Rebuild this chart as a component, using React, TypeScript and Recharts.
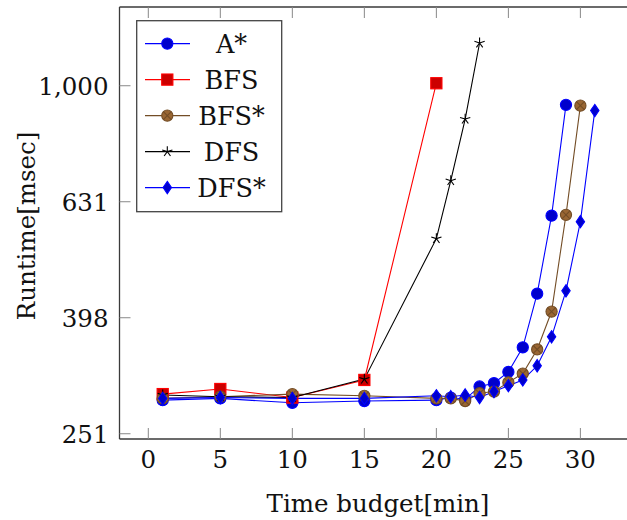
import { LineChart, Line, XAxis, YAxis, ReferenceLine, Legend } from 'recharts';

const xTicks = [0, 5, 10, 15, 20, 25, 30];
const yTicks = [251.19, 398.11, 630.96, 1000];
const yTickLabels = ['251', '398', '631', '1,000'];

const aStarX = [1, 5, 10, 15, 20, 21, 22, 23, 24, 25, 26, 27, 28, 29];
const aStarY = [287, 289, 284, 286, 287, 290, 288, 303, 307, 321, 354, 438, 597, 927];

const bfsX = [1, 5, 10, 15, 20];
const bfsY = [294, 300, 290, 311, 1010];

const bfsStarX = [1, 5, 10, 15, 20, 21, 22, 23, 24, 25, 26, 27, 28, 29, 30];
const bfsStarY = [289, 291, 294, 292, 289, 289, 286, 295, 297, 308, 319, 351, 408, 599, 924];

const dfsX = [1, 5, 10, 15, 20, 21, 22, 23];
const dfsY = [293, 291, 290, 312, 545, 686, 876, 1185];

const dfsStarX = [1, 5, 10, 15, 20, 21, 22, 23, 24, 25, 26, 27, 28, 29, 30, 31];
const dfsStarY = [289, 290, 289, 289, 292, 291, 293, 290, 297, 304, 311, 329, 369, 443, 583, 906];

const FONT = 'DejaVu Serif';
const PLOT_H = 432;
const Y_MIN = 246;
const Y_MAX = 1367;

const zip = (xs: number[], ys: number[]) => xs.map((x, i) => ({ x, y: ys[i] }));

type MarkKind = 'circle' | 'square' | 'otimes' | 'star' | 'diamond';

const series = [
  { name: 'A*', data: zip(aStarX, aStarY), stroke: '#0000ff', fill: '#0000cc', mark: 'circle' as MarkKind },
  { name: 'BFS', data: zip(bfsX, bfsY), stroke: '#ff0000', fill: '#cc0000', mark: 'square' as MarkKind },
  { name: 'BFS*', data: zip(bfsStarX, bfsStarY), stroke: '#734d26', fill: '#996633', mark: 'otimes' as MarkKind },
  { name: 'DFS', data: zip(dfsX, dfsY), stroke: '#000000', fill: '#000000', mark: 'star' as MarkKind },
  { name: 'DFS*', data: zip(dfsStarX, dfsStarY), stroke: '#0000ff', fill: '#0000cc', mark: 'diamond' as MarkKind },
];

function Mark({ kind, cx, cy, stroke, fill }: { kind: MarkKind; cx: number; cy: number; stroke: string; fill: string }) {
  const r = 5.6;
  if (kind === 'circle') return <circle cx={cx} cy={cy} r={r} fill={fill} stroke={stroke} strokeWidth={1.1} />;
  if (kind === 'square')
    return <rect x={cx - r} y={cy - r} width={2 * r} height={2 * r} fill={fill} stroke={stroke} strokeWidth={1.1} />;
  if (kind === 'otimes') {
    const d = r * 0.707;
    return (
      <g stroke={stroke} strokeWidth={1.1}>
        <circle cx={cx} cy={cy} r={r} fill={fill} />
        <line x1={cx - d} y1={cy - d} x2={cx + d} y2={cy + d} />
        <line x1={cx - d} y1={cy + d} x2={cx + d} y2={cy - d} />
      </g>
    );
  }
  if (kind === 'star') {
    return (
      <g stroke={stroke} strokeWidth={1.1}>
        {[0, 1, 2, 3, 4].map(k => {
          const a = (-90 + 72 * k) * Math.PI / 180;
          return <line key={k} x1={cx} y1={cy} x2={cx + 5.4 * Math.cos(a)} y2={cy + 5.4 * Math.sin(a)} />;
        })}
      </g>
    );
  }
  return (
    <polygon
      points={`${cx},${cy - 6.2} ${cx + 4.2},${cy} ${cx},${cy + 6.2} ${cx - 4.2},${cy}`}
      fill={fill}
      stroke={stroke}
      strokeWidth={1.1}
    />
  );
}

const XTick = (props: any) => {
  const { x, y, payload } = props;
  return (
    <g>
      <line x1={x} x2={x} y1={y} y2={y - 11} stroke="#888" strokeWidth={1} />
      <line x1={x} x2={x} y1={y - PLOT_H} y2={y - PLOT_H + 11} stroke="#888" strokeWidth={1} />
      <text x={x} y={y + 29} textAnchor="middle" style={{ fontFamily: FONT, fontSize: 24.5 }} fill="#111">
        {payload.value}
      </text>
    </g>
  );
};

const YTick = (props: any) => {
  const { x, y, index } = props;
  return (
    <g>
      <line x1={x} x2={x + 11} y1={y} y2={y} stroke="#888" strokeWidth={1} />
      <text x={x - 11} y={y + 9} textAnchor="end" style={{ fontFamily: FONT, fontSize: 24.5 }} fill="#111">
        {yTickLabels[index]}
      </text>
    </g>
  );
};

function LegendBox() {
  return (
    <svg width={147} height={193} style={{ display: 'block' }}>
      <rect x={0.7} y={0.7} width={145} height={191} fill="#fff" stroke="#444" strokeWidth={1.3} />
      {series.map((s, i) => {
        const cy = 23.6 + i * 36;
        return (
          <g key={s.name}>
            <line x1={9} x2={54} y1={cy} y2={cy} stroke={s.stroke} strokeWidth={1.1} />
            <Mark kind={s.mark} cx={31.3} cy={cy} stroke={s.stroke} fill={s.fill} />
            <text x={95.5} y={cy + 9.3} textAnchor="middle" style={{ fontFamily: FONT, fontSize: 25.5 }} fill="#111">
              {s.name}
            </text>
          </g>
        );
      })}
    </svg>
  );
}

export default function App() {
  return (
    <div style={{ position: 'absolute', left: 0, top: 0, width: 627, height: 520, overflow: 'hidden', background: '#fff' }}>
      <LineChart width={640} height={520} margin={{ top: 7, right: 2, bottom: 0, left: 0 }}>
        <XAxis
          dataKey="x"
          type="number"
          domain={[-2, 34]}
          ticks={xTicks}
          allowDataOverflow
          height={81}
          tickSize={0}
          tickMargin={0}
          tickLine={false}
          tick={<XTick />}
          axisLine={{ stroke: '#3a3a3a', strokeWidth: 1.3 }}
          label={{
            content: () => (
              <text x={378} y={511.5} textAnchor="middle" style={{ fontFamily: FONT, fontSize: 24.5 }} fill="#111">
                Time budget[min]
              </text>
            ),
          }}
        />
        <YAxis
          type="number"
          scale="log"
          domain={[Y_MIN, Y_MAX]}
          ticks={yTicks}
          allowDataOverflow
          width={119.5}
          tickSize={0}
          tickMargin={0}
          tickLine={false}
          tick={<YTick />}
          axisLine={{ stroke: '#3a3a3a', strokeWidth: 1.3 }}
          label={{
            content: () => (
              <text
                x={35}
                y={226}
                transform="rotate(-90 35 226)"
                textAnchor="middle"
                style={{ fontFamily: FONT, fontSize: 24.5 }}
                fill="#111"
              >
                Runtime[msec]
              </text>
            ),
          }}
        />
        <ReferenceLine y={Y_MAX} stroke="#3a3a3a" strokeWidth={1.3} ifOverflow="visible" />
        {series.map(s => (
          <Line
            key={s.name}
            data={s.data}
            dataKey="y"
            name={s.name}
            stroke={s.stroke}
            strokeWidth={1.1}
            isAnimationActive={false}
            activeDot={false}
            dot={(p: any) => (
              <Mark key={`${s.name}-${p.index}`} kind={s.mark} cx={p.cx} cy={p.cy} stroke={s.stroke} fill={s.fill} />
            )}
          />
        ))}
        <Legend
          layout="vertical"
          align="center"
          verticalAlign="middle"
          content={() => <LegendBox />}
          wrapperStyle={{ position: 'absolute', left: 136, top: 20, width: 147, height: 193 }}
        />
      </LineChart>
    </div>
  );
}
